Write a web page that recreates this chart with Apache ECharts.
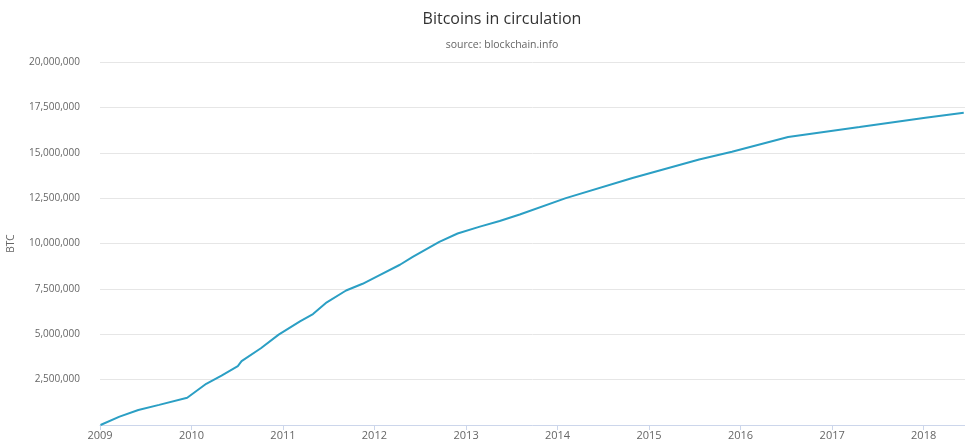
<!DOCTYPE html>
<html>
<head>
<meta charset="utf-8">
<title>Bitcoins in circulation</title>
<script src="https://cdn.jsdelivr.net/npm/echarts@6/dist/echarts.min.js"></script>
<style>
  html, body { margin: 0; padding: 0; background: #fff; }
  #chart { width: 965px; height: 442px; }
</style>
</head>
<body>
<div id="chart"></div>
<script>
// dates and BTC in circulation
var dates = [
    '2009-01-03', '2009-03-20', '2009-06-03', '2009-08-25', '2009-12-15',
    '2010-03-01', '2010-05-01', '2010-07-05', '2010-07-20', '2010-10-05',
    '2010-12-15', '2011-03-10', '2011-05-01', '2011-06-25', '2011-09-10',
    '2011-11-15', '2012-01-22', '2012-04-12', '2012-06-02', '2012-09-16',
    '2012-11-28', '2013-02-25', '2013-05-15', '2013-08-03', '2014-02-03',
    '2014-10-27', '2015-07-20', '2015-11-28', '2016-07-09', '2017-04-20',
    '2018-01-08', '2018-06-10'
];
var btc = [
    0, 460000, 830000, 1110000, 1500000,
    2270000, 2720000, 3240000, 3520000, 4230000,
    4980000, 5710000, 6110000, 6760000, 7410000,
    7780000, 8260000, 8830000, 9260000, 10090000,
    10550000, 10930000, 11240000, 11600000, 12500000,
    13610000, 14630000, 15060000, 15870000, 16420000,
    16930000, 17200000
];
var yTicks = [0, 2500000, 5000000, 7500000, 10000000, 12500000, 15000000, 17500000, 20000000];

var points = dates.map(function (d, i) { return [d, btc[i]]; });

var chart = document.getElementById('chart');
var myChart = echarts.init(chart);

var font = 'Open Sans';

var option = {
    animation: false,
    title: {
        text: 'Bitcoins in circulation',
        subtext: 'source: blockchain.info',
        left: 497,
        textAlign: 'center',
        top: 6,
        itemGap: 13,
        textStyle: { fontFamily: font, fontSize: 16, fontWeight: 'normal', color: '#333' },
        subtextStyle: { fontFamily: font, fontSize: 10.5, color: '#666' }
    },
    grid: { left: 100, right: 0, top: 62, bottom: 17, outerBoundsMode: 'none', containLabel: false },
    xAxis: {
        type: 'time',
        min: '2009-01-01',
        max: '2018-06-15',
        splitNumber: 10,
        axisLine: { lineStyle: { color: '#ccd6eb' } },
        axisTick: { show: true, length: 5, lineStyle: { color: '#ccd6eb' } },
        splitLine: { show: false },
        axisLabel: {
            fontFamily: font, fontSize: 11, color: '#666', margin: 5,
            formatter: '{yyyy}', showMinLabel: true
        }
    },
    yAxis: {
        type: 'value',
        min: yTicks[0],
        max: yTicks[yTicks.length - 1],
        interval: yTicks[1] - yTicks[0],
        name: 'BTC',
        nameLocation: 'middle',
        nameRotate: 90,
        nameGap: 84,
        nameTextStyle: { fontFamily: font, fontSize: 10, color: '#666' },
        axisLine: { show: false },
        axisTick: { show: false },
        splitLine: { lineStyle: { color: '#e6e6e6' } },
        axisLabel: {
            fontFamily: font, fontSize: 10, color: '#666', margin: 20,
            formatter: function (v) { return v === 0 ? '' : v.toLocaleString('en-US'); }
        }
    },
    series: [
        {
            name: 'BTC',
            type: 'line',
            data: points,
            showSymbol: false,
            smooth: false,
            lineStyle: { color: '#2b9fc4', width: 2 },
            itemStyle: { color: '#2b9fc4' }
        }
    ]
};

myChart.setOption(option);
</script>
</body>
</html>
